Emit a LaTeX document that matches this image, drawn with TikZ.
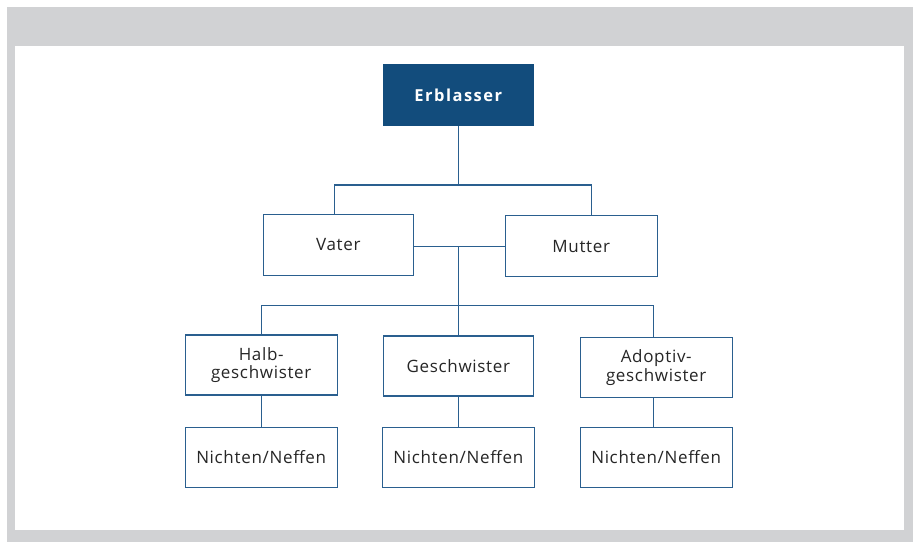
\documentclass[tikz,border=0pt]{standalone}
\usepackage{fontspec}
\setmainfont{Open Sans}[LetterSpace=4]
\newfontfamily\boldsp{Open Sans}[LetterSpace=9]
\definecolor{frame}{HTML}{D1D2D4}
\definecolor{dblue}{HTML}{124C7C}
\definecolor{lblue}{HTML}{2A5F8F}
\tikzset{
  box/.style={draw=lblue, line width=1.1pt, fill=white, align=center, inner sep=0pt,
    font=\fontsize{17}{18.5}\selectfont, text=black!85},
  topbox/.style={fill=dblue, draw=none, align=center, inner sep=0pt,
    font=\fontsize{16.5}{18}\selectfont\boldsp\bfseries, text=white},
  conn/.style={draw=lblue, line width=1.1pt}
}
\begin{document}
\begin{tikzpicture}[x=1pt,y=-1pt]
\useasboundingbox (0,0) rectangle (913,542);
\fill[white] (0,0) rectangle (913,542);
\fill[frame] (7,7) rectangle (913,542);
\fill[white] (15,46) rectangle (904,530);

\node[topbox, minimum width=151.3pt, minimum height=61.7pt] (E) at (458.3,95.2) {Erblasser};
\node[box, minimum width=150pt, minimum height=61.7pt] (V) at (338.3,244.9) {Vater};
\node[box, minimum width=152.3pt, minimum height=61pt] (M) at (581.2,246.2) {Mutter};
\node[box, minimum width=152.3pt, minimum height=60pt] (H) at (261.2,365) {Halb-\\geschwister};
\node[box, minimum width=150pt, minimum height=60pt] (G) at (458.3,366) {Geschwister};
\node[box, minimum width=152.3pt, minimum height=59.6pt] (A) at (656.2,367.5) {Adoptiv-\\geschwister};
\node[box, minimum width=152.3pt, minimum height=60.3pt] (N1) at (261.2,457.2) {Nichten/Neffen};
\node[box, minimum width=152pt, minimum height=60.3pt] (N2) at (458.3,457.2) {Nichten/Neffen};
\node[box, minimum width=152.3pt, minimum height=60.3pt] (N3) at (656.2,457.2) {Nichten/Neffen};

\coordinate (j1) at (458.3,185);
\coordinate (j2) at (458.3,246.7);
\coordinate (j3) at (458.3,305.7);

\draw[conn] (E.south) -- (j1);
\draw[conn] ([xshift=-4pt]V.north) |- (j1) -| ([xshift=10.5pt]M.north);
\draw[conn] (V.east |- j2) -- (M.west |- j2);
\draw[conn] (j2) -- (j3);
\draw[conn] (H.north) |- (j3) -| ([xshift=-3pt]A.north);
\draw[conn] (j3) -- (G.north);
\draw[conn] (H) -- (N1);
\draw[conn] (G) -- (N2);
\draw[conn] ([xshift=-3pt]A.south) -- ([xshift=-3pt]N3.north);
\end{tikzpicture}
\end{document}
